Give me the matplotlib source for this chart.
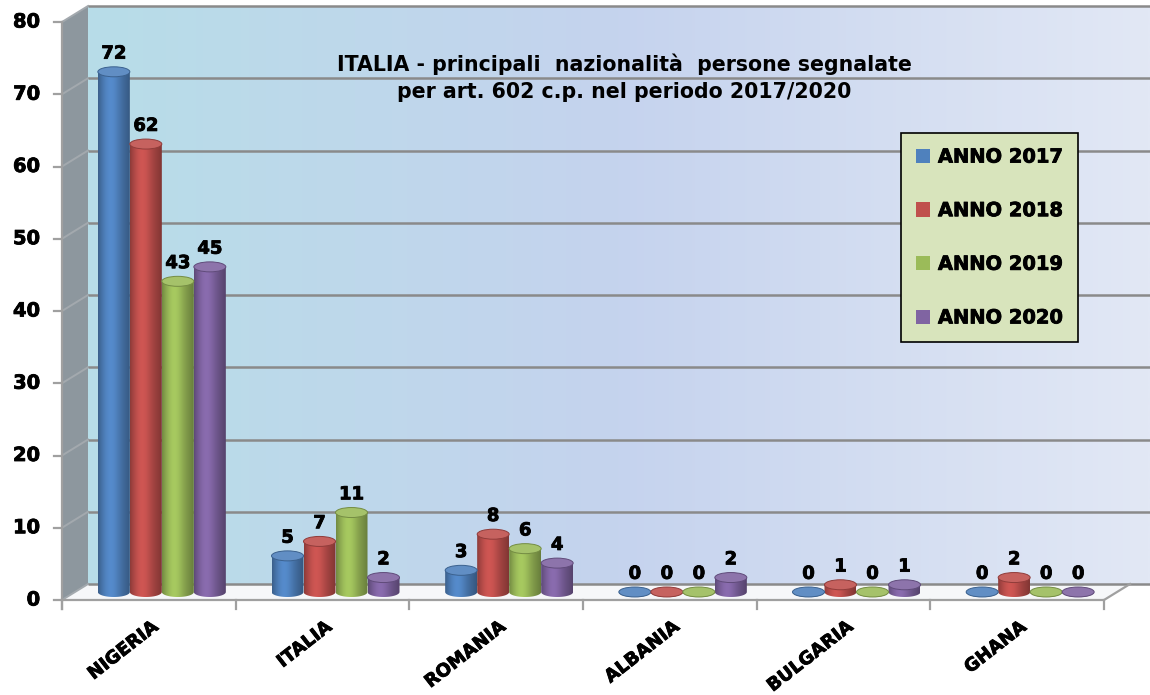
import numpy as np
import matplotlib
matplotlib.use('Agg')
import matplotlib.pyplot as plt
import matplotlib.patheffects as pe
from matplotlib.patches import Polygon, Ellipse, Patch
from matplotlib.colors import to_rgb

# dati
paesi = ['NIGERIA', 'ITALIA', 'ROMANIA', 'ALBANIA', 'BULGARIA', 'GHANA']
anni = ['ANNO 2017', 'ANNO 2018', 'ANNO 2019', 'ANNO 2020']
v2017 = [72, 5, 3, 0, 0, 0]
v2018 = [62, 7, 8, 0, 1, 2]
v2019 = [43, 11, 6, 0, 0, 0]
v2020 = [45, 2, 4, 2, 1, 0]
serie = [v2017, v2018, v2019, v2020]
colori = ['#4F81BD', '#C0504D', '#9BBB59', '#8064A2']
yticks = list(range(0, 90, 10))
titolo = ('ITALIA - principali  nazionalità  persone segnalate\n'
          'per art. 602 c.p. nel periodo 2017/2020')

W, H = 1150, 695
fig = plt.figure(figsize=(W / 100, H / 100), dpi=100)
ax = fig.add_axes([0, 0, 1, 1])
ax.axis('off')

# piano frontale: categorie 0..6 tra px 62 e 1104, valori 0..80 tra px 600 e 22
sx = (1104 - 62) / 6
sy = (600 - 22) / 80
xmin, xmax = -62 / sx, (W - 62) / sx
ymin, ymax = -(H - 600) / sy, 600 / sy
DX, DY = 26 / sx, 16 / sy          # profondità prospettica
ytop = yticks[-1]
grassetto = [pe.withStroke(linewidth=0.6, foreground='black')]


def mix(c, other, t):
    c = np.array(to_rgb(c))
    return tuple(c * (1 - t) + np.array(to_rgb(other)) * t)


# parete di fondo sfumata
grad = np.linspace(0, 1, 256)
c_a, c_b, c_c = np.array(to_rgb('#B7DDE8')), np.array(to_rgb('#C5D3EE')), np.array(to_rgb('#E2E8F5'))
fondo = np.where(grad[:, None] < 0.5,
                 c_a + (c_b - c_a) * (grad[:, None] / 0.5),
                 c_b + (c_c - c_b) * ((grad[:, None] - 0.5) / 0.5))
ax.imshow(fondo[None, :, :], extent=[DX, xmax, DY, ytop + DY], aspect='auto',
          interpolation='bilinear', zorder=0)

# parete laterale e pavimento
ax.add_patch(Polygon([(0, 0), (DX, DY), (DX, ytop + DY), (0, ytop)],
                     facecolor='#8D979E', edgecolor='none', zorder=1))
ax.add_patch(Polygon([(0, 0), (6, 0), (6 + DX, DY), (DX, DY)],
                     facecolor='#F6F7F9', edgecolor='none', zorder=1))

# griglia
for v in yticks:
    ax.plot([0, DX], [v, v + DY], color='#A3A9AE', lw=1.4, zorder=2)
    ax.plot([DX, xmax], [v + DY, v + DY], color='#8A8A8A', lw=1.8, zorder=2,
            solid_capstyle='butt')

# assi
ax.plot([0, 6, 6 + DX], [0, 0, DY], color='#A0A0A0', lw=1.6, zorder=2)
ax.plot([0, 0], [-9 / sy, ytop], color='#A0A0A0', lw=1.6, zorder=2)
for i in range(7):
    ax.plot([i, i], [0, -9 / sy], color='#A0A0A0', lw=1.6, zorder=2)
for v in yticks:
    ax.plot([-8 / sx, 0], [v, v], color='#A0A0A0', lw=1.6, zorder=2)
    ax.text(-22 / sx, v, str(v), ha='right', va='center', fontsize=14,
            fontweight='bold', path_effects=grassetto)

# cilindri
w = 32 / sx
e = 10 / sy
base = DY / 2
u = np.linspace(0, 1, 80)
luce = 0.78 + 0.3 * np.exp(-((u - 0.38) / 0.32) ** 2) - 0.12 * (u ** 6 + (1 - u) ** 8)

for j, (vals, col) in enumerate(zip(serie, colori)):
    rgb = np.clip(np.array(to_rgb(col))[None, :] * luce[:, None], 0, 1)
    for i, v in enumerate(vals):
        xc = i + 0.5 + DX / 2 + (j - 1.5) * w
        sx0, sx1 = xc - w / 2, xc + w / 2
        top = base + v
        t = np.linspace(0, np.pi, 40)
        arco = list(zip(xc - (w / 2) * np.cos(t), base - (e / 2) * np.sin(t)))
        corpo = Polygon([(sx0, top)] + arco + [(sx1, top)], closed=True,
                        facecolor='none', edgecolor='none', zorder=3)
        ax.add_patch(corpo)
        img = ax.imshow(rgb[None, :, :], extent=[sx0, sx1, base - e / 2, top],
                        aspect='auto', interpolation='bilinear', zorder=3)
        img.set_clip_path(corpo)
        ax.add_patch(Ellipse((xc, top), w, e, facecolor=mix(col, 'white', 0.1),
                             edgecolor=mix(col, 'black', 0.25), lw=0.7, zorder=4))
        ax.annotate(str(v), (xc, top + e / 2), xytext=(0, 3),
                    textcoords='offset points', ha='center', va='bottom',
                    fontsize=13, fontweight='bold', zorder=5,
                    path_effects=grassetto)

# etichette categorie
for i, p in enumerate(paesi):
    ax.text(i + 0.5 + 10 / sx, -29 / sy, p, rotation=38, rotation_mode='anchor',
            ha='right', va='baseline', fontsize=13, fontweight='bold',
            path_effects=grassetto)

# titolo
ax.text(3.24, 72.3, titolo, ha='center', va='center', fontsize=14.8,
        fontweight='bold', linespacing=1.4)

# legenda
maniglie = [Patch(facecolor=c, edgecolor='none') for c in colori]
leg = ax.legend(maniglie, anni, loc='upper left',
                bbox_to_anchor=(901 / W, 1 - 133 / H), bbox_transform=fig.transFigure,
                borderaxespad=0, frameon=True, fancybox=False, facecolor='#D8E4BC',
                edgecolor='black', framealpha=1, labelspacing=1.78, borderpad=0.75,
                handlelength=0.75, handleheight=0.75, handletextpad=0.4,
                prop={'weight': 'bold', 'size': 14})
leg.get_frame().set_linewidth(1.2)
leg.set_zorder(6)
for testo in leg.get_texts():
    testo.set_path_effects(grassetto)

ax.set_xlim(xmin, xmax)
ax.set_ylim(ymin, ymax)
fig.savefig('out.png', dpi=100, facecolor='white')
